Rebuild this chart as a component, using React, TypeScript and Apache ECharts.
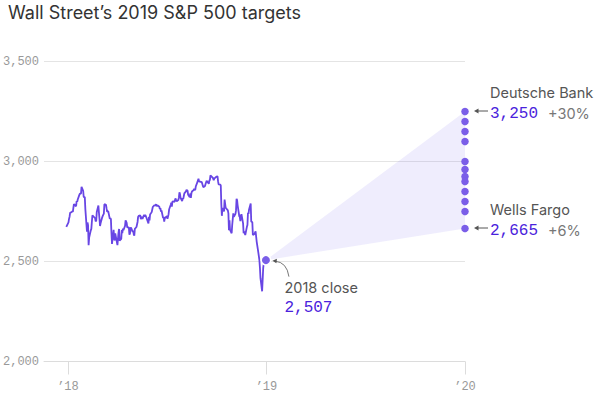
import React, { useEffect, useRef } from "react";
import * as echarts from "echarts";

// ---- Data -----------------------------------------------------------------
const priceDates = [
  "2017-12-29",
  "2018-01-02","2018-01-03","2018-01-04","2018-01-05","2018-01-08","2018-01-09","2018-01-10","2018-01-11","2018-01-12","2018-01-16","2018-01-17","2018-01-18","2018-01-19","2018-01-22","2018-01-23","2018-01-24","2018-01-25","2018-01-26","2018-01-29","2018-01-30","2018-01-31",
  "2018-02-01","2018-02-02","2018-02-05","2018-02-06","2018-02-07","2018-02-08","2018-02-09","2018-02-12","2018-02-13","2018-02-14","2018-02-15","2018-02-16","2018-02-20","2018-02-21","2018-02-22","2018-02-23","2018-02-26","2018-02-27","2018-02-28",
  "2018-03-01","2018-03-02","2018-03-05","2018-03-06","2018-03-07","2018-03-08","2018-03-09","2018-03-12","2018-03-13","2018-03-14","2018-03-15","2018-03-16","2018-03-19","2018-03-20","2018-03-21","2018-03-22","2018-03-23","2018-03-26","2018-03-27","2018-03-28","2018-03-29",
  "2018-04-02","2018-04-03","2018-04-04","2018-04-05","2018-04-06","2018-04-09","2018-04-10","2018-04-11","2018-04-12","2018-04-13","2018-04-16","2018-04-17","2018-04-18","2018-04-19","2018-04-20","2018-04-23","2018-04-24","2018-04-25","2018-04-26","2018-04-27","2018-04-30",
  "2018-05-01","2018-05-02","2018-05-03","2018-05-04","2018-05-07","2018-05-08","2018-05-09","2018-05-10","2018-05-11","2018-05-14","2018-05-15","2018-05-16","2018-05-17","2018-05-18","2018-05-21","2018-05-22","2018-05-23","2018-05-24","2018-05-25","2018-05-29","2018-05-30","2018-05-31",
  "2018-06-01","2018-06-04","2018-06-05","2018-06-06","2018-06-07","2018-06-08","2018-06-11","2018-06-12","2018-06-13","2018-06-14","2018-06-15","2018-06-18","2018-06-19","2018-06-20","2018-06-21","2018-06-22","2018-06-25","2018-06-26","2018-06-27","2018-06-28","2018-06-29",
  "2018-07-02","2018-07-03","2018-07-05","2018-07-06","2018-07-09","2018-07-10","2018-07-11","2018-07-12","2018-07-13","2018-07-16","2018-07-17","2018-07-18","2018-07-19","2018-07-20","2018-07-23","2018-07-24","2018-07-25","2018-07-26","2018-07-27","2018-07-30","2018-07-31",
  "2018-08-01","2018-08-02","2018-08-03","2018-08-06","2018-08-07","2018-08-08","2018-08-09","2018-08-10","2018-08-13","2018-08-14","2018-08-15","2018-08-16","2018-08-17","2018-08-20","2018-08-21","2018-08-22","2018-08-23","2018-08-24","2018-08-27","2018-08-28","2018-08-29","2018-08-30","2018-08-31",
  "2018-09-04","2018-09-05","2018-09-06","2018-09-07","2018-09-10","2018-09-11","2018-09-12","2018-09-13","2018-09-14","2018-09-17","2018-09-18","2018-09-19","2018-09-20","2018-09-21","2018-09-24","2018-09-25","2018-09-26","2018-09-27","2018-09-28",
  "2018-10-01","2018-10-02","2018-10-03","2018-10-04","2018-10-05","2018-10-08","2018-10-09","2018-10-10","2018-10-11","2018-10-12","2018-10-15","2018-10-16","2018-10-17","2018-10-18","2018-10-19","2018-10-22","2018-10-23","2018-10-24","2018-10-25","2018-10-26","2018-10-29","2018-10-30","2018-10-31",
  "2018-11-01","2018-11-02","2018-11-05","2018-11-06","2018-11-07","2018-11-08","2018-11-09","2018-11-12","2018-11-13","2018-11-14","2018-11-15","2018-11-16","2018-11-19","2018-11-20","2018-11-21","2018-11-23","2018-11-26","2018-11-27","2018-11-28","2018-11-29","2018-11-30",
  "2018-12-03","2018-12-04","2018-12-06","2018-12-07","2018-12-10","2018-12-11","2018-12-12","2018-12-13","2018-12-14","2018-12-17","2018-12-18","2018-12-19","2018-12-20","2018-12-21","2018-12-24","2018-12-26","2018-12-27","2018-12-28","2018-12-31",
];

const priceCloses = [
  2673.61,
  2695.81,2713.06,2723.99,2743.15,2747.71,2751.29,2748.23,2767.56,2786.24,2776.42,2802.56,2798.03,2810.30,2832.97,2839.13,2837.54,2839.25,2872.87,2853.53,2822.43,2823.81,
  2821.98,2762.13,2648.94,2695.14,2681.66,2581.00,2619.55,2656.00,2662.94,2698.63,2731.20,2732.22,2716.26,2701.33,2703.96,2747.30,2779.60,2744.28,2713.83,
  2677.67,2691.25,2720.94,2728.12,2726.80,2738.97,2786.57,2783.02,2765.31,2749.48,2747.33,2752.01,2712.92,2716.94,2711.93,2643.69,2588.26,2658.55,2612.62,2605.00,2640.87,
  2581.88,2614.45,2644.69,2662.84,2604.47,2613.16,2656.87,2642.19,2663.99,2656.30,2677.84,2706.39,2708.64,2693.13,2670.14,2670.29,2634.56,2639.40,2666.94,2669.91,2648.05,
  2654.80,2635.67,2629.73,2663.42,2672.63,2671.92,2697.79,2723.07,2727.72,2730.13,2711.45,2722.46,2720.13,2712.97,2733.01,2724.44,2733.29,2727.76,2721.33,2689.86,2724.01,2705.27,
  2734.62,2746.87,2748.80,2772.35,2770.37,2779.03,2782.00,2786.85,2775.63,2782.49,2779.66,2773.75,2762.59,2767.32,2749.76,2754.88,2717.07,2723.06,2699.63,2716.31,2718.37,
  2726.71,2713.22,2736.61,2759.82,2784.17,2793.84,2774.02,2798.29,2801.31,2798.43,2809.55,2815.62,2804.49,2801.83,2806.98,2820.40,2846.07,2837.44,2818.82,2802.60,2816.29,
  2813.36,2827.22,2840.35,2850.40,2858.45,2857.70,2853.58,2833.28,2821.93,2839.96,2818.37,2840.69,2850.13,2857.05,2862.96,2861.82,2856.98,2874.69,2896.74,2897.52,2914.04,2901.13,2901.52,
  2896.72,2888.60,2878.05,2871.68,2877.13,2887.89,2888.92,2904.18,2904.98,2888.80,2904.31,2907.95,2930.75,2929.67,2919.37,2915.56,2905.97,2914.00,2913.98,
  2924.59,2923.43,2925.51,2901.61,2885.57,2884.43,2880.34,2785.68,2728.37,2767.13,2750.79,2809.92,2809.21,2768.78,2767.78,2755.88,2740.69,2656.10,2705.57,2658.69,2641.25,2682.63,2711.74,
  2740.37,2723.06,2738.31,2755.45,2813.89,2806.83,2781.01,2726.22,2722.18,2701.58,2730.20,2736.27,2690.73,2641.89,2649.93,2632.56,2673.45,2682.17,2743.79,2737.80,2760.17,
  2790.37,2700.06,2695.95,2633.08,2637.72,2636.78,2651.07,2650.54,2599.95,2545.94,2546.16,2506.96,2467.42,2416.62,2351.10,2467.70,2488.83,2485.74,2506.85,
];

const targetDate = "2020-01-01";
const targetValues = [3250, 3200, 3150, 3100, 3000, 2960, 2925, 2900, 2850, 2800, 2750, 2665];

const xTickDates = ["2018-01-01", "2019-01-01", "2020-01-01"];
const xTickLabels = ["’18", "’19", "’20"];
const xStartDate = "2017-11-18";

const yMin = 2000;
const yMax = 3500;
const yStep = 500;

const titleText = "Wall Street’s 2019 S&P 500 targets";
const closeName = "2018 close";
const closeText = "2,507";
const highName = "Deutsche Bank";
const highText = "3,250";
const highPct = "+30%";
const lowName = "Wells Fargo";
const lowText = "2,665";
const lowPct = "+6%";

// ---- Helpers --------------------------------------------------------------
const BASE = Date.UTC(2018, 0, 1);
function dayOf(s: string): number {
  const [y, m, d] = s.split("-").map(Number);
  return Math.round((Date.UTC(y, m - 1, d) - BASE) / 86400000);
}

const SANS = "Inter, 'Noto Sans', sans-serif";
const MONO = "'Liberation Mono', 'DejaVu Sans Mono', monospace";
const PURPLE_LINE = "#6846e4";
const PURPLE_DOT = "#7a5ee8";
const PURPLE_TEXT = "#4a22dc";

export default function App() {
  const ref = useRef<HTMLDivElement>(null);

  useEffect(() => {
    if (!ref.current) return;
    const chart = echarts.init(ref.current, undefined, { renderer: "svg" });

    const lineData = priceDates.map((d, i) => [dayOf(d), priceCloses[i]]);
    const lastPoint = lineData[lineData.length - 1];
    const tX = dayOf(targetDate);
    const tMax = Math.max(...targetValues);
    const tMin = Math.min(...targetValues);
    const tickDays = xTickDates.map(dayOf);

    chart.setOption({
      animation: false,
      grid: { left: 43, right: 135, top: 61.5, bottom: 31.5 },
      xAxis: {
        type: "value",
        min: dayOf(xStartDate),
        max: tX,
        splitLine: { show: false },
        axisLine: { show: true, lineStyle: { color: "#dcdcdc", width: 1 } },
        axisTick: {
          show: true,
          customValues: tickDays,
          length: 13,
          lineStyle: { color: "#dcdcdc", width: 1 },
        },
        axisLabel: {
          customValues: tickDays,
          margin: 19,
          color: "#999",
          fontFamily: MONO,
          fontSize: 12,
          formatter: (v: number) => {
            const i = tickDays.indexOf(Math.round(v));
            return i >= 0 ? xTickLabels[i] : "";
          },
        },
      },
      yAxis: {
        type: "value",
        min: yMin,
        max: yMax,
        interval: yStep,
        axisLine: { show: false },
        axisTick: { show: false },
        splitLine: { lineStyle: { color: "#e4e4e4", width: 1 } },
        axisLabel: {
          margin: 5,
          color: "#999",
          fontFamily: MONO,
          fontSize: 12,
          formatter: (v: number) => v.toLocaleString("en-US"),
        },
      },
      series: [
        {
          type: "custom",
          z: 1,
          silent: true,
          data: [[0]],
          renderItem: (_params: any, api: any) => {
            const p0 = api.coord(lastPoint);
            const p1 = api.coord([tX, tMax]);
            const p2 = api.coord([tX, tMin]);
            return {
              type: "polygon",
              shape: { points: [p0, p1, p2] },
              style: { fill: "rgba(112, 90, 236, 0.11)" },
            };
          },
        },
        {
          type: "line",
          z: 3,
          data: lineData,
          showSymbol: false,
          symbol: "none",
          lineStyle: { color: PURPLE_LINE, width: 1.8 },
        },
        {
          type: "scatter",
          z: 4,
          data: targetValues.map((v) => [tX, v]),
          symbolSize: 7.5,
          itemStyle: { color: PURPLE_DOT, opacity: 1 },
        },
        {
          type: "scatter",
          z: 5,
          data: [lastPoint],
          symbolSize: 9.5,
          itemStyle: { color: PURPLE_DOT, borderColor: "#ffffff", borderWidth: 1.5, opacity: 1 },
        },
      ],
    });

    const hi = chart.convertToPixel({ gridIndex: 0 }, [tX, tMax]) as number[];
    const lo = chart.convertToPixel({ gridIndex: 0 }, [tX, tMin]) as number[];
    const cl = chart.convertToPixel({ gridIndex: 0 }, lastPoint) as number[];

    const arrowLeft = (p: number[]) => {
      const y = p[1] - 0.5;
      const tip = p[0] + 9;
      return [
        {
          type: "line",
          shape: { x1: tip + 2, y1: y, x2: p[0] + 23, y2: y },
          style: { stroke: "#555", lineWidth: 1 },
        },
        {
          type: "polygon",
          shape: { points: [[tip, y], [tip + 4.5, y - 2.5], [tip + 4.5, y + 2.5]] },
          style: { fill: "#555" },
        },
      ];
    };

    const labelBlock = (p: number[], name: string, val: string, pct: string) => [
      {
        type: "text",
        x: p[0] + 25,
        y: p[1] - 19,
        style: { text: name, fill: "#555", font: `14.5px ${SANS}`, textVerticalAlign: "middle" },
      },
      {
        type: "text",
        x: p[0] + 25,
        y: p[1] + 2,
        style: { text: val, fill: PURPLE_TEXT, font: `16px ${MONO}`, textVerticalAlign: "middle" },
      },
      {
        type: "text",
        x: p[0] + 83,
        y: p[1] + 2,
        style: { text: pct, fill: "#777", font: `14.5px ${SANS}`, textVerticalAlign: "middle" },
      },
    ];

    chart.setOption({
      graphic: [
        {
          type: "text",
          left: 8,
          top: 3,
          style: { text: titleText, fill: "#333", font: `18px ${SANS}` },
        },
        ...labelBlock(hi, highName, highText, highPct),
        ...arrowLeft(hi),
        ...labelBlock(lo, lowName, lowText, lowPct),
        ...arrowLeft(lo),
        {
          type: "text",
          x: cl[0] + 18.5,
          y: cl[1] + 27,
          style: { text: closeName, fill: "#555", font: `14.5px ${SANS}`, textVerticalAlign: "middle" },
        },
        {
          type: "text",
          x: cl[0] + 18.5,
          y: cl[1] + 48,
          style: { text: closeText, fill: PURPLE_TEXT, font: `16px ${MONO}`, textVerticalAlign: "middle" },
        },
        {
          type: "bezierCurve",
          shape: {
            x1: cl[0] + 23,
            y1: cl[1] + 16.5,
            cpx1: cl[0] + 21,
            cpy1: cl[1] + 2,
            x2: cl[0] + 9,
            y2: cl[1] + 1,
          },
          style: { stroke: "#666", lineWidth: 0.9, fill: null },
        },
        {
          type: "polygon",
          shape: {
            points: [
              [cl[0] + 6.5, cl[1] + 0.5],
              [cl[0] + 11, cl[1] - 1.5],
              [cl[0] + 10.5, cl[1] + 3],
            ],
          },
          style: { fill: "#555" },
        },
      ],
    });

    return () => chart.dispose();
  }, []);

  return (
    <div
      ref={ref}
      style={{ position: "fixed", left: 0, top: 0, width: 600, height: 393, background: "#fff" }}
    />
  );
}
